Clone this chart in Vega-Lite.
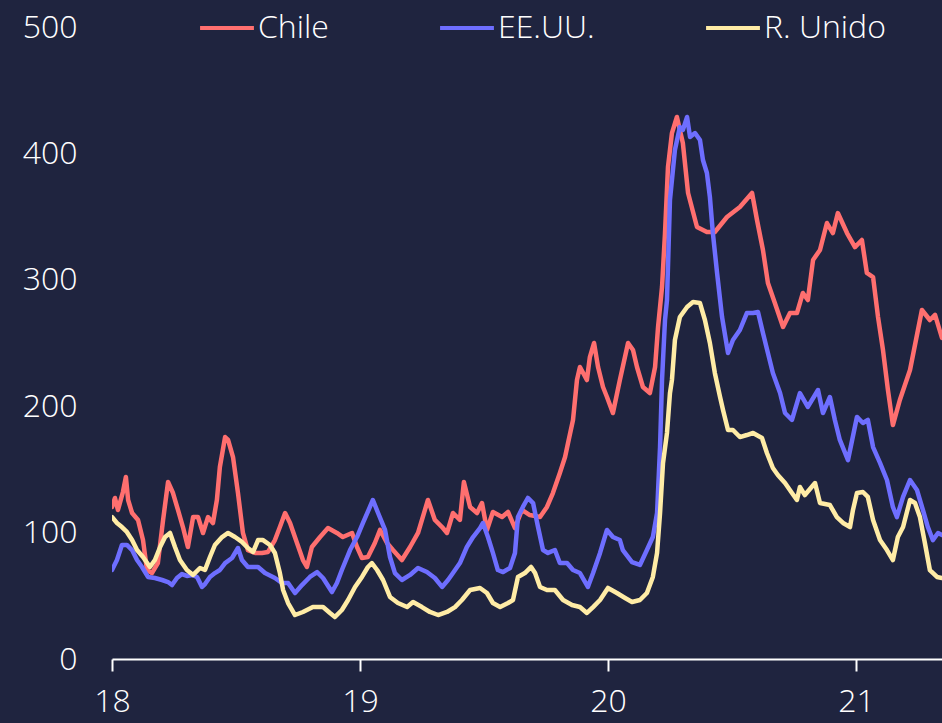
{
"$schema":"https://vega.github.io/schema/vega-lite/v6.json",
"width":830,"height":632,
"autosize":{"type":"none"},
"padding":{"left":112,"top":27,"right":0,"bottom":64},
"background":"#1f243f",
"config":{"view":{"stroke":null},"font":"Open Sans"},
"data":{"values":[
{"s":"Chile","x":18.000,"y":120.3},{"s":"Chile","x":18.012,"y":127.4},{"s":"Chile","x":18.024,"y":117.9},{"s":"Chile","x":18.044,"y":132.1},{"s":"Chile","x":18.056,"y":144.0},{"s":"Chile","x":18.065,"y":125.8},{"s":"Chile","x":18.081,"y":115.5},{"s":"Chile","x":18.105,"y":110.0},{"s":"Chile","x":18.125,"y":94.1},{"s":"Chile","x":18.141,"y":70.4},{"s":"Chile","x":18.161,"y":68.0},{"s":"Chile","x":18.185,"y":75.9},{"s":"Chile","x":18.206,"y":110.0},{"s":"Chile","x":18.226,"y":140.0},{"s":"Chile","x":18.246,"y":131.3},{"s":"Chile","x":18.266,"y":117.9},{"s":"Chile","x":18.286,"y":104.4},{"s":"Chile","x":18.306,"y":88.6},{"s":"Chile","x":18.327,"y":112.3},{"s":"Chile","x":18.347,"y":112.3},{"s":"Chile","x":18.367,"y":99.7},{"s":"Chile","x":18.387,"y":112.3},{"s":"Chile","x":18.407,"y":107.6},{"s":"Chile","x":18.423,"y":125.8},{"s":"Chile","x":18.435,"y":151.9},{"s":"Chile","x":18.456,"y":175.6},{"s":"Chile","x":18.468,"y":173.3},{"s":"Chile","x":18.488,"y":159.8},{"s":"Chile","x":18.508,"y":131.3},{"s":"Chile","x":18.528,"y":99.7},{"s":"Chile","x":18.548,"y":86.2},{"s":"Chile","x":18.577,"y":83.9},{"s":"Chile","x":18.605,"y":83.9},{"s":"Chile","x":18.629,"y":84.7},{"s":"Chile","x":18.657,"y":94.1},{"s":"Chile","x":18.677,"y":104.4},{"s":"Chile","x":18.698,"y":115.5},{"s":"Chile","x":18.718,"y":107.6},{"s":"Chile","x":18.746,"y":91.8},{"s":"Chile","x":18.770,"y":78.3},{"s":"Chile","x":18.786,"y":72.8},{"s":"Chile","x":18.806,"y":88.6},{"s":"Chile","x":18.839,"y":96.5},{"s":"Chile","x":18.871,"y":103.6},{"s":"Chile","x":18.907,"y":99.7},{"s":"Chile","x":18.931,"y":96.5},{"s":"Chile","x":18.968,"y":99.7},{"s":"Chile","x":18.988,"y":88.6},{"s":"Chile","x":19.008,"y":79.9},{"s":"Chile","x":19.032,"y":80.7},{"s":"Chile","x":19.060,"y":91.8},{"s":"Chile","x":19.081,"y":102.1},{"s":"Chile","x":19.109,"y":91.8},{"s":"Chile","x":19.133,"y":86.2},{"s":"Chile","x":19.169,"y":78.3},{"s":"Chile","x":19.202,"y":88.6},{"s":"Chile","x":19.234,"y":99.7},{"s":"Chile","x":19.262,"y":117.9},{"s":"Chile","x":19.274,"y":125.8},{"s":"Chile","x":19.302,"y":110.0},{"s":"Chile","x":19.331,"y":104.4},{"s":"Chile","x":19.351,"y":99.7},{"s":"Chile","x":19.375,"y":115.5},{"s":"Chile","x":19.403,"y":110.0},{"s":"Chile","x":19.419,"y":140.0},{"s":"Chile","x":19.444,"y":120.3},{"s":"Chile","x":19.472,"y":115.5},{"s":"Chile","x":19.492,"y":123.4},{"s":"Chile","x":19.512,"y":102.1},{"s":"Chile","x":19.536,"y":116.3},{"s":"Chile","x":19.573,"y":112.3},{"s":"Chile","x":19.597,"y":116.3},{"s":"Chile","x":19.625,"y":103.6},{"s":"Chile","x":19.653,"y":117.9},{"s":"Chile","x":19.685,"y":113.9},{"s":"Chile","x":19.726,"y":112.3},{"s":"Chile","x":19.754,"y":120.3},{"s":"Chile","x":19.778,"y":131.3},{"s":"Chile","x":19.806,"y":147.2},{"s":"Chile","x":19.827,"y":159.8},{"s":"Chile","x":19.839,"y":170.9},{"s":"Chile","x":19.859,"y":189.1},{"s":"Chile","x":19.875,"y":220.7},{"s":"Chile","x":19.887,"y":231.0},{"s":"Chile","x":19.915,"y":220.7},{"s":"Chile","x":19.927,"y":238.9},{"s":"Chile","x":19.944,"y":250.0},{"s":"Chile","x":19.960,"y":231.0},{"s":"Chile","x":19.980,"y":215.2},{"s":"Chile","x":19.996,"y":207.3},{"s":"Chile","x":20.020,"y":194.6},{"s":"Chile","x":20.048,"y":220.7},{"s":"Chile","x":20.081,"y":250.0},{"s":"Chile","x":20.101,"y":244.5},{"s":"Chile","x":20.117,"y":231.0},{"s":"Chile","x":20.141,"y":215.2},{"s":"Chile","x":20.169,"y":210.4},{"s":"Chile","x":20.190,"y":231.0},{"s":"Chile","x":20.202,"y":262.7},{"s":"Chile","x":20.218,"y":294.3},{"s":"Chile","x":20.230,"y":337.0},{"s":"Chile","x":20.242,"y":389.2},{"s":"Chile","x":20.258,"y":416.1},{"s":"Chile","x":20.278,"y":428.8},{"s":"Chile","x":20.302,"y":408.2},{"s":"Chile","x":20.323,"y":368.7},{"s":"Chile","x":20.359,"y":341.8},{"s":"Chile","x":20.399,"y":337.8},{"s":"Chile","x":20.431,"y":337.8},{"s":"Chile","x":20.480,"y":349.7},{"s":"Chile","x":20.532,"y":357.6},{"s":"Chile","x":20.581,"y":368.7},{"s":"Chile","x":20.601,"y":347.3},{"s":"Chile","x":20.625,"y":323.6},{"s":"Chile","x":20.645,"y":297.5},{"s":"Chile","x":20.673,"y":281.6},{"s":"Chile","x":20.706,"y":262.7},{"s":"Chile","x":20.734,"y":273.7},{"s":"Chile","x":20.762,"y":273.7},{"s":"Chile","x":20.786,"y":289.6},{"s":"Chile","x":20.806,"y":284.0},{"s":"Chile","x":20.827,"y":315.7},{"s":"Chile","x":20.855,"y":323.6},{"s":"Chile","x":20.883,"y":344.9},{"s":"Chile","x":20.907,"y":337.0},{"s":"Chile","x":20.927,"y":352.8},{"s":"Chile","x":20.964,"y":337.0},{"s":"Chile","x":20.996,"y":325.9},{"s":"Chile","x":21.024,"y":331.5},{"s":"Chile","x":21.044,"y":305.4},{"s":"Chile","x":21.069,"y":302.2},{"s":"Chile","x":21.089,"y":270.6},{"s":"Chile","x":21.109,"y":244.5},{"s":"Chile","x":21.129,"y":212.8},{"s":"Chile","x":21.149,"y":185.1},{"s":"Chile","x":21.177,"y":204.9},{"s":"Chile","x":21.218,"y":228.6},{"s":"Chile","x":21.250,"y":260.3},{"s":"Chile","x":21.266,"y":276.1},{"s":"Chile","x":21.298,"y":268.2},{"s":"Chile","x":21.319,"y":272.2},{"s":"Chile","x":21.347,"y":254.0},
{"s":"EE.UU.","x":18.000,"y":70.4},{"s":"EE.UU.","x":18.020,"y":78.3},{"s":"EE.UU.","x":18.040,"y":90.2},{"s":"EE.UU.","x":18.060,"y":90.2},{"s":"EE.UU.","x":18.081,"y":86.2},{"s":"EE.UU.","x":18.101,"y":78.3},{"s":"EE.UU.","x":18.121,"y":72.8},{"s":"EE.UU.","x":18.145,"y":64.9},{"s":"EE.UU.","x":18.173,"y":64.1},{"s":"EE.UU.","x":18.202,"y":62.5},{"s":"EE.UU.","x":18.226,"y":60.9},{"s":"EE.UU.","x":18.242,"y":58.5},{"s":"EE.UU.","x":18.262,"y":64.1},{"s":"EE.UU.","x":18.282,"y":67.2},{"s":"EE.UU.","x":18.302,"y":65.7},{"s":"EE.UU.","x":18.323,"y":66.5},{"s":"EE.UU.","x":18.343,"y":64.9},{"s":"EE.UU.","x":18.363,"y":57.0},{"s":"EE.UU.","x":18.375,"y":59.3},{"s":"EE.UU.","x":18.395,"y":64.9},{"s":"EE.UU.","x":18.415,"y":68.0},{"s":"EE.UU.","x":18.435,"y":70.4},{"s":"EE.UU.","x":18.456,"y":75.9},{"s":"EE.UU.","x":18.484,"y":79.9},{"s":"EE.UU.","x":18.508,"y":87.8},{"s":"EE.UU.","x":18.524,"y":78.3},{"s":"EE.UU.","x":18.548,"y":72.8},{"s":"EE.UU.","x":18.589,"y":72.8},{"s":"EE.UU.","x":18.617,"y":68.0},{"s":"EE.UU.","x":18.657,"y":64.1},{"s":"EE.UU.","x":18.685,"y":60.1},{"s":"EE.UU.","x":18.710,"y":60.1},{"s":"EE.UU.","x":18.738,"y":52.2},{"s":"EE.UU.","x":18.766,"y":58.5},{"s":"EE.UU.","x":18.798,"y":64.9},{"s":"EE.UU.","x":18.827,"y":68.8},{"s":"EE.UU.","x":18.851,"y":64.1},{"s":"EE.UU.","x":18.887,"y":53.0},{"s":"EE.UU.","x":18.907,"y":60.1},{"s":"EE.UU.","x":18.927,"y":70.4},{"s":"EE.UU.","x":18.960,"y":86.2},{"s":"EE.UU.","x":18.988,"y":96.5},{"s":"EE.UU.","x":19.012,"y":107.6},{"s":"EE.UU.","x":19.040,"y":120.3},{"s":"EE.UU.","x":19.052,"y":125.8},{"s":"EE.UU.","x":19.073,"y":115.5},{"s":"EE.UU.","x":19.101,"y":102.1},{"s":"EE.UU.","x":19.121,"y":80.7},{"s":"EE.UU.","x":19.141,"y":68.0},{"s":"EE.UU.","x":19.169,"y":62.5},{"s":"EE.UU.","x":19.202,"y":66.5},{"s":"EE.UU.","x":19.234,"y":72.0},{"s":"EE.UU.","x":19.270,"y":68.8},{"s":"EE.UU.","x":19.302,"y":64.1},{"s":"EE.UU.","x":19.331,"y":57.0},{"s":"EE.UU.","x":19.355,"y":62.5},{"s":"EE.UU.","x":19.375,"y":68.0},{"s":"EE.UU.","x":19.403,"y":75.9},{"s":"EE.UU.","x":19.431,"y":88.6},{"s":"EE.UU.","x":19.456,"y":96.5},{"s":"EE.UU.","x":19.484,"y":103.6},{"s":"EE.UU.","x":19.496,"y":107.6},{"s":"EE.UU.","x":19.516,"y":96.5},{"s":"EE.UU.","x":19.536,"y":83.9},{"s":"EE.UU.","x":19.556,"y":70.4},{"s":"EE.UU.","x":19.577,"y":68.8},{"s":"EE.UU.","x":19.605,"y":72.0},{"s":"EE.UU.","x":19.625,"y":83.9},{"s":"EE.UU.","x":19.637,"y":112.3},{"s":"EE.UU.","x":19.657,"y":120.3},{"s":"EE.UU.","x":19.677,"y":127.4},{"s":"EE.UU.","x":19.698,"y":123.4},{"s":"EE.UU.","x":19.718,"y":104.4},{"s":"EE.UU.","x":19.738,"y":86.2},{"s":"EE.UU.","x":19.758,"y":83.9},{"s":"EE.UU.","x":19.786,"y":86.2},{"s":"EE.UU.","x":19.806,"y":75.9},{"s":"EE.UU.","x":19.835,"y":75.9},{"s":"EE.UU.","x":19.859,"y":70.4},{"s":"EE.UU.","x":19.887,"y":68.0},{"s":"EE.UU.","x":19.919,"y":57.0},{"s":"EE.UU.","x":19.940,"y":68.0},{"s":"EE.UU.","x":19.968,"y":83.9},{"s":"EE.UU.","x":19.996,"y":102.1},{"s":"EE.UU.","x":20.020,"y":96.5},{"s":"EE.UU.","x":20.048,"y":94.1},{"s":"EE.UU.","x":20.060,"y":86.2},{"s":"EE.UU.","x":20.097,"y":76.7},{"s":"EE.UU.","x":20.129,"y":74.4},{"s":"EE.UU.","x":20.157,"y":86.2},{"s":"EE.UU.","x":20.181,"y":96.5},{"s":"EE.UU.","x":20.198,"y":115.5},{"s":"EE.UU.","x":20.210,"y":167.7},{"s":"EE.UU.","x":20.218,"y":220.7},{"s":"EE.UU.","x":20.230,"y":268.2},{"s":"EE.UU.","x":20.238,"y":284.0},{"s":"EE.UU.","x":20.250,"y":363.1},{"s":"EE.UU.","x":20.270,"y":402.7},{"s":"EE.UU.","x":20.290,"y":420.9},{"s":"EE.UU.","x":20.302,"y":418.5},{"s":"EE.UU.","x":20.319,"y":428.8},{"s":"EE.UU.","x":20.331,"y":413.0},{"s":"EE.UU.","x":20.351,"y":416.1},{"s":"EE.UU.","x":20.371,"y":410.6},{"s":"EE.UU.","x":20.383,"y":394.8},{"s":"EE.UU.","x":20.399,"y":384.5},{"s":"EE.UU.","x":20.411,"y":365.5},{"s":"EE.UU.","x":20.423,"y":337.0},{"s":"EE.UU.","x":20.440,"y":305.4},{"s":"EE.UU.","x":20.460,"y":270.6},{"s":"EE.UU.","x":20.484,"y":242.1},{"s":"EE.UU.","x":20.504,"y":252.4},{"s":"EE.UU.","x":20.532,"y":260.3},{"s":"EE.UU.","x":20.560,"y":273.7},{"s":"EE.UU.","x":20.585,"y":273.7},{"s":"EE.UU.","x":20.605,"y":274.5},{"s":"EE.UU.","x":20.625,"y":257.9},{"s":"EE.UU.","x":20.645,"y":242.1},{"s":"EE.UU.","x":20.665,"y":226.3},{"s":"EE.UU.","x":20.694,"y":210.4},{"s":"EE.UU.","x":20.714,"y":194.6},{"s":"EE.UU.","x":20.742,"y":189.1},{"s":"EE.UU.","x":20.774,"y":210.4},{"s":"EE.UU.","x":20.806,"y":199.4},{"s":"EE.UU.","x":20.847,"y":212.8},{"s":"EE.UU.","x":20.867,"y":194.6},{"s":"EE.UU.","x":20.895,"y":207.3},{"s":"EE.UU.","x":20.915,"y":189.1},{"s":"EE.UU.","x":20.935,"y":173.3},{"s":"EE.UU.","x":20.968,"y":157.4},{"s":"EE.UU.","x":21.004,"y":191.5},{"s":"EE.UU.","x":21.028,"y":186.7},{"s":"EE.UU.","x":21.048,"y":189.1},{"s":"EE.UU.","x":21.069,"y":167.7},{"s":"EE.UU.","x":21.097,"y":155.1},{"s":"EE.UU.","x":21.125,"y":141.6},{"s":"EE.UU.","x":21.149,"y":120.3},{"s":"EE.UU.","x":21.165,"y":112.3},{"s":"EE.UU.","x":21.190,"y":128.2},{"s":"EE.UU.","x":21.218,"y":141.6},{"s":"EE.UU.","x":21.246,"y":133.7},{"s":"EE.UU.","x":21.270,"y":117.9},{"s":"EE.UU.","x":21.290,"y":104.4},{"s":"EE.UU.","x":21.310,"y":94.1},{"s":"EE.UU.","x":21.331,"y":99.7},{"s":"EE.UU.","x":21.347,"y":98.1},
{"s":"R. Unido","x":18.000,"y":112.3},{"s":"R. Unido","x":18.020,"y":107.6},{"s":"R. Unido","x":18.040,"y":104.4},{"s":"R. Unido","x":18.060,"y":100.5},{"s":"R. Unido","x":18.081,"y":94.1},{"s":"R. Unido","x":18.101,"y":86.2},{"s":"R. Unido","x":18.125,"y":80.7},{"s":"R. Unido","x":18.153,"y":72.8},{"s":"R. Unido","x":18.173,"y":78.3},{"s":"R. Unido","x":18.194,"y":88.6},{"s":"R. Unido","x":18.214,"y":96.5},{"s":"R. Unido","x":18.234,"y":99.7},{"s":"R. Unido","x":18.254,"y":88.6},{"s":"R. Unido","x":18.274,"y":78.3},{"s":"R. Unido","x":18.302,"y":70.4},{"s":"R. Unido","x":18.327,"y":66.5},{"s":"R. Unido","x":18.355,"y":72.0},{"s":"R. Unido","x":18.375,"y":70.4},{"s":"R. Unido","x":18.395,"y":80.7},{"s":"R. Unido","x":18.415,"y":90.2},{"s":"R. Unido","x":18.444,"y":96.5},{"s":"R. Unido","x":18.468,"y":99.7},{"s":"R. Unido","x":18.496,"y":96.5},{"s":"R. Unido","x":18.524,"y":92.6},{"s":"R. Unido","x":18.548,"y":87.8},{"s":"R. Unido","x":18.569,"y":84.7},{"s":"R. Unido","x":18.589,"y":94.1},{"s":"R. Unido","x":18.609,"y":94.1},{"s":"R. Unido","x":18.637,"y":90.2},{"s":"R. Unido","x":18.657,"y":83.9},{"s":"R. Unido","x":18.677,"y":68.0},{"s":"R. Unido","x":18.690,"y":54.6},{"s":"R. Unido","x":18.710,"y":44.3},{"s":"R. Unido","x":18.738,"y":34.8},{"s":"R. Unido","x":18.770,"y":37.2},{"s":"R. Unido","x":18.810,"y":41.1},{"s":"R. Unido","x":18.851,"y":41.1},{"s":"R. Unido","x":18.879,"y":36.4},{"s":"R. Unido","x":18.899,"y":33.2},{"s":"R. Unido","x":18.927,"y":38.8},{"s":"R. Unido","x":18.952,"y":46.7},{"s":"R. Unido","x":18.980,"y":57.0},{"s":"R. Unido","x":19.008,"y":64.9},{"s":"R. Unido","x":19.032,"y":72.8},{"s":"R. Unido","x":19.048,"y":75.9},{"s":"R. Unido","x":19.069,"y":70.4},{"s":"R. Unido","x":19.093,"y":62.5},{"s":"R. Unido","x":19.121,"y":49.1},{"s":"R. Unido","x":19.153,"y":44.3},{"s":"R. Unido","x":19.190,"y":41.1},{"s":"R. Unido","x":19.214,"y":45.1},{"s":"R. Unido","x":19.250,"y":41.1},{"s":"R. Unido","x":19.282,"y":37.2},{"s":"R. Unido","x":19.315,"y":34.8},{"s":"R. Unido","x":19.351,"y":37.2},{"s":"R. Unido","x":19.383,"y":41.1},{"s":"R. Unido","x":19.411,"y":46.7},{"s":"R. Unido","x":19.444,"y":54.6},{"s":"R. Unido","x":19.484,"y":56.2},{"s":"R. Unido","x":19.512,"y":52.2},{"s":"R. Unido","x":19.536,"y":44.3},{"s":"R. Unido","x":19.565,"y":41.1},{"s":"R. Unido","x":19.597,"y":44.3},{"s":"R. Unido","x":19.617,"y":46.7},{"s":"R. Unido","x":19.637,"y":64.9},{"s":"R. Unido","x":19.665,"y":68.0},{"s":"R. Unido","x":19.690,"y":72.8},{"s":"R. Unido","x":19.706,"y":68.0},{"s":"R. Unido","x":19.726,"y":57.0},{"s":"R. Unido","x":19.754,"y":54.6},{"s":"R. Unido","x":19.786,"y":54.6},{"s":"R. Unido","x":19.819,"y":46.7},{"s":"R. Unido","x":19.855,"y":42.7},{"s":"R. Unido","x":19.887,"y":41.1},{"s":"R. Unido","x":19.915,"y":36.4},{"s":"R. Unido","x":19.940,"y":41.1},{"s":"R. Unido","x":19.968,"y":46.7},{"s":"R. Unido","x":20.000,"y":56.2},{"s":"R. Unido","x":20.036,"y":52.2},{"s":"R. Unido","x":20.069,"y":48.3},{"s":"R. Unido","x":20.097,"y":45.1},{"s":"R. Unido","x":20.129,"y":46.7},{"s":"R. Unido","x":20.157,"y":52.2},{"s":"R. Unido","x":20.181,"y":64.9},{"s":"R. Unido","x":20.198,"y":83.9},{"s":"R. Unido","x":20.210,"y":115.5},{"s":"R. Unido","x":20.222,"y":155.1},{"s":"R. Unido","x":20.238,"y":178.8},{"s":"R. Unido","x":20.250,"y":210.4},{"s":"R. Unido","x":20.258,"y":220.7},{"s":"R. Unido","x":20.270,"y":252.4},{"s":"R. Unido","x":20.290,"y":270.6},{"s":"R. Unido","x":20.319,"y":278.5},{"s":"R. Unido","x":20.343,"y":282.4},{"s":"R. Unido","x":20.371,"y":281.6},{"s":"R. Unido","x":20.391,"y":268.2},{"s":"R. Unido","x":20.411,"y":250.0},{"s":"R. Unido","x":20.431,"y":226.3},{"s":"R. Unido","x":20.452,"y":207.3},{"s":"R. Unido","x":20.464,"y":197.0},{"s":"R. Unido","x":20.484,"y":181.2},{"s":"R. Unido","x":20.504,"y":181.2},{"s":"R. Unido","x":20.532,"y":175.6},{"s":"R. Unido","x":20.560,"y":177.2},{"s":"R. Unido","x":20.585,"y":178.8},{"s":"R. Unido","x":20.621,"y":174.8},{"s":"R. Unido","x":20.641,"y":163.0},{"s":"R. Unido","x":20.665,"y":151.1},{"s":"R. Unido","x":20.685,"y":145.6},{"s":"R. Unido","x":20.714,"y":139.2},{"s":"R. Unido","x":20.742,"y":131.3},{"s":"R. Unido","x":20.762,"y":125.8},{"s":"R. Unido","x":20.774,"y":136.1},{"s":"R. Unido","x":20.794,"y":129.7},{"s":"R. Unido","x":20.835,"y":139.2},{"s":"R. Unido","x":20.855,"y":123.4},{"s":"R. Unido","x":20.895,"y":121.8},{"s":"R. Unido","x":20.923,"y":112.3},{"s":"R. Unido","x":20.948,"y":107.6},{"s":"R. Unido","x":20.976,"y":104.4},{"s":"R. Unido","x":20.988,"y":117.9},{"s":"R. Unido","x":21.004,"y":131.3},{"s":"R. Unido","x":21.028,"y":132.1},{"s":"R. Unido","x":21.048,"y":128.2},{"s":"R. Unido","x":21.069,"y":110.0},{"s":"R. Unido","x":21.097,"y":94.1},{"s":"R. Unido","x":21.125,"y":86.2},{"s":"R. Unido","x":21.149,"y":78.3},{"s":"R. Unido","x":21.169,"y":96.5},{"s":"R. Unido","x":21.190,"y":104.4},{"s":"R. Unido","x":21.218,"y":125.8},{"s":"R. Unido","x":21.238,"y":123.4},{"s":"R. Unido","x":21.258,"y":112.3},{"s":"R. Unido","x":21.278,"y":91.8},{"s":"R. Unido","x":21.298,"y":70.4},{"s":"R. Unido","x":21.327,"y":64.9},{"s":"R. Unido","x":21.347,"y":64.1}
]},
"mark":{"type":"line","strokeWidth":4.5,"clip":true,"strokeJoin":"round","strokeCap":"round"},
"encoding":{
"x":{"field":"x","type":"quantitative","scale":{"domain":[18,21.347],"nice":false,"zero":false},
"axis":{"values":[18,19,20,21],"format":"d","title":null,"grid":false,"labelFlush":false,"domainColor":"#ffffff","domainWidth":2,"tickColor":"#ffffff","tickWidth":2,"tickSize":12,"labelColor":"#ffffff","labelFont":"Open Sans","labelFontSize":32,"labelFontWeight":300,"labelPadding":15}},
"y":{"field":"y","type":"quantitative","scale":{"domain":[0,500],"nice":false},
"axis":{"values":[0,100,200,300,400,500],"title":null,"grid":false,"domain":false,"ticks":false,"labelColor":"#ffffff","labelFont":"Open Sans","labelFontSize":32,"labelFontWeight":300,"labelPadding":35,"labelFlush":false,"labelOverlap":false}},
"color":{"field":"s","type":"nominal","scale":{"domain":["Chile","EE.UU.","R. Unido"],"range":["#ff6f6f","#6e6eff","#ffeca6"]},
"legend":{"title":null,"orient":"none","legendX":86,"legendY":-28,"direction":"horizontal","symbolType":"stroke","symbolSize":2900,"symbolStrokeWidth":4,"labelColor":"#ffffff","labelFont":"Open Sans","labelFontSize":32,"labelFontWeight":300,"labelOffset":2,"columnPadding":103}}
}
}
